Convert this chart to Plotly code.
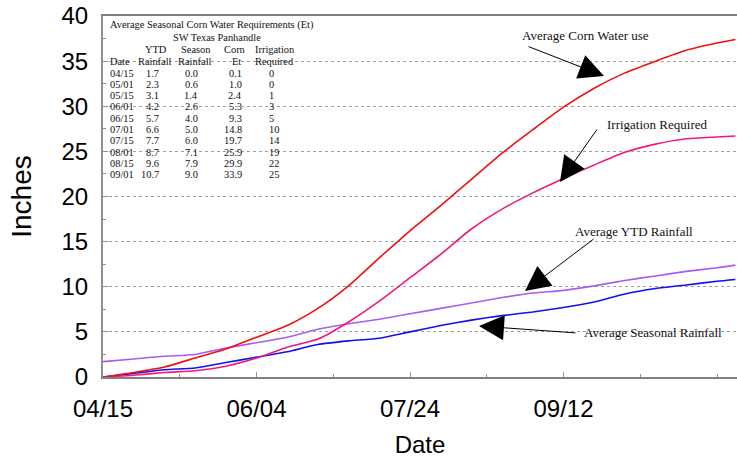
import plotly.graph_objects as go

# ---- curve data (days after 04/15) ----
days = [0, 10, 20, 30, 40, 50, 60, 70, 80, 90, 100, 110, 120, 130, 140,
        150, 160, 170, 180, 190, 200, 206]
corn_et = [0.0, 0.5, 1.1, 2.1, 3.1, 4.4, 5.7, 7.6, 10.1, 13.2, 16.2, 19.0,
           21.9, 24.8, 27.4, 29.9, 32.0, 33.7, 35.0, 36.2, 37.0, 37.4]
irrigation = [0.0, 0.2, 0.5, 0.7, 1.2, 2.1, 3.3, 4.2, 6.1, 8.4, 11.0, 13.6,
              16.4, 18.6, 20.4, 22.0, 23.5, 24.9, 25.8, 26.4, 26.6, 26.7]
ytd_rain = [1.7, 2.0, 2.3, 2.5, 3.2, 3.8, 4.4, 5.3, 5.9, 6.4, 7.0, 7.6,
            8.2, 8.8, 9.3, 9.6, 10.1, 10.7, 11.2, 11.7, 12.1, 12.4]
season_rain = [0.0, 0.4, 0.8, 1.0, 1.6, 2.2, 2.8, 3.6, 4.0, 4.3, 5.0, 5.7,
               6.3, 6.8, 7.2, 7.7, 8.3, 9.2, 9.8, 10.2, 10.6, 10.8]

x_tick_vals = [0, 50, 100, 150]
x_tick_text = ["04/15", "06/04", "07/24", "09/12"]
y_tick_vals = [0, 5, 10, 15, 20, 25, 30, 35, 40]

# ---- table data ----
table_title = "Average Seasonal Corn Water Requirements (Et)"
table_subtitle = "SW Texas Panhandle"
tbl_dates = ["04/15", "05/01", "05/15", "06/01", "06/15", "07/01", "07/15",
             "08/01", "08/15", "09/01"]
tbl_ytd = [1.7, 2.3, 3.1, 4.2, 5.7, 6.6, 7.7, 8.7, 9.6, 10.7]
tbl_season = [0.0, 0.6, 1.4, 2.6, 4.0, 5.0, 6.0, 7.1, 7.9, 9.0]
tbl_corn = [0.1, 1.0, 2.4, 5.3, 9.3, 14.8, 19.7, 25.9, 29.9, 33.9]
tbl_irr = [0, 0, 1, 3, 5, 10, 14, 19, 22, 25]

W, H = 737, 460
# plot box in screen pixels
SX0, SX1, SY0, SY1 = 103, 737, 16, 377
L, R, T = SX0, W - SX1, SY0
B = H - SY1
PW, PH = SX1 - SX0, SY1 - SY0


def px(xp):
    return (xp - SX0) / PW


def py(yp):
    return (SY1 - yp) / PH


fig = go.Figure()
series = [
    ("Average YTD Rainfall", ytd_rain, "#A95CF5"),
    ("Average Seasonal Rainfall", season_rain, "#1010F0"),
    ("Irrigation Required", irrigation, "#F0187E"),
    ("Average Corn Water use", corn_et, "#F01010"),
]
for name, vals, col in series:
    fig.add_trace(go.Scatter(x=days, y=vals, mode="lines", name=name,
                             line=dict(color=col, width=1.6, shape="spline",
                                       smoothing=0.6)))

serif = "Liberation Serif, Times New Roman, serif"
ann = []
TS = 10.4

# table text
ann.append(dict(x=px(108), y=py(25), text=table_title, xanchor="left"))
ann.append(dict(x=px(217), y=py(37), text=table_subtitle, xanchor="center"))
for txt, xc in [("YTD", 156), ("Season", 196), ("Corn", 235), ("Irrigation", 275)]:
    ann.append(dict(x=px(xc), y=py(49), text=txt, xanchor="center"))
ann.append(dict(x=px(108), y=py(61), text="Date", xanchor="left"))
for txt, xc in [("Rainfall", 155), ("Rainfall", 195), ("Et", 236), ("Required", 274)]:
    ann.append(dict(x=px(xc), y=py(61), text=txt, xanchor="center"))
for i, d in enumerate(tbl_dates):
    yy = py(73 + i * 11.3)
    ann.append(dict(x=px(108), y=yy, text=d, xanchor="left"))
    ann.append(dict(x=px(161), y=yy, text=f"{tbl_ytd[i]:.1f}", xanchor="right"))
    ann.append(dict(x=px(200), y=yy, text=f"{tbl_season[i]:.1f}", xanchor="right"))
    ann.append(dict(x=px(244), y=yy, text=f"{tbl_corn[i]:.1f}", xanchor="right"))
    ann.append(dict(x=px(267), y=yy, text=f"{tbl_irr[i]}", xanchor="left"))
for a in ann:
    a.update(xref="paper", yref="paper", showarrow=False, yanchor="middle",
             font=dict(family=serif, size=TS, color="#111"))

# callout labels
labels = [
    ("Average Corn Water use", 520, 35),
    ("Irrigation Required", 605, 124),
    ("Average YTD Rainfall", 573, 231),
    ("Average Seasonal Rainfall", 582, 332),
]
for txt, xl, yl in labels:
    ann.append(dict(xref="paper", yref="paper", x=px(xl), y=py(yl), text=txt,
                    xanchor="left", yanchor="middle", showarrow=False,
                    font=dict(family=serif, size=13, color="#111")))

# arrows (tail pixel -> tip pixel)
arrows = [
    ((527, 46), (604, 76)),
    ((598, 128), (560, 182)),
    ((595, 238), (525, 291)),
    ((577, 333), (479, 326)),
]
for (tx, ty), (hx, hy) in arrows:
    ann.append(dict(xref="paper", yref="paper", x=px(hx), y=py(hy),
                    axref="pixel", ayref="pixel", ax=tx - hx, ay=ty - hy,
                    text="", showarrow=True, arrowhead=2, arrowsize=5,
                    arrowwidth=1, arrowcolor="#000"))

fig.update_layout(
    width=W, height=H,
    margin=dict(l=L, r=R, t=T, b=B, autoexpand=False),
    paper_bgcolor="white", plot_bgcolor="white",
    showlegend=False,
    annotations=ann,
    font=dict(family="Liberation Sans, Arial, sans-serif", color="#000"),
    xaxis=dict(
        range=[0, PW / 3.07], tickvals=x_tick_vals, ticktext=x_tick_text,
        showgrid=False, zeroline=False,
        showline=True, linecolor="#808080", linewidth=1.5, mirror=True,
        ticks="inside", ticklen=5, tickcolor="#909090",
        minor=dict(ticks="inside", ticklen=3, dtick=25, tick0=0, tickcolor="#909090"),
        tickfont=dict(size=24), ticklabelstandoff=9, ticklabeloverflow="allow",
        title=dict(text="Date", font=dict(size=24), standoff=16),
        automargin=False,
    ),
    yaxis=dict(
        range=[0, 40], tickvals=y_tick_vals,
        showgrid=True, gridcolor="#A0A0A0", griddash="dot", gridwidth=1,
        zeroline=False,
        showline=True, linecolor="#909090", linewidth=2,
        ticks="inside", ticklen=5, tickcolor="#909090",
        minor=dict(ticks="inside", ticklen=3, dtick=2.5, tick0=0,
                   tickcolor="#909090", showgrid=False),
        tickfont=dict(size=24), ticklabelstandoff=8, ticklabeloverflow="allow",
        title=dict(text="Inches", font=dict(size=28), standoff=22),
        automargin=False,
    ),
)

fig.write_html("out.html",
               config={"displayModeBar": False},
               post_script="document.body.style.margin='0px';")
